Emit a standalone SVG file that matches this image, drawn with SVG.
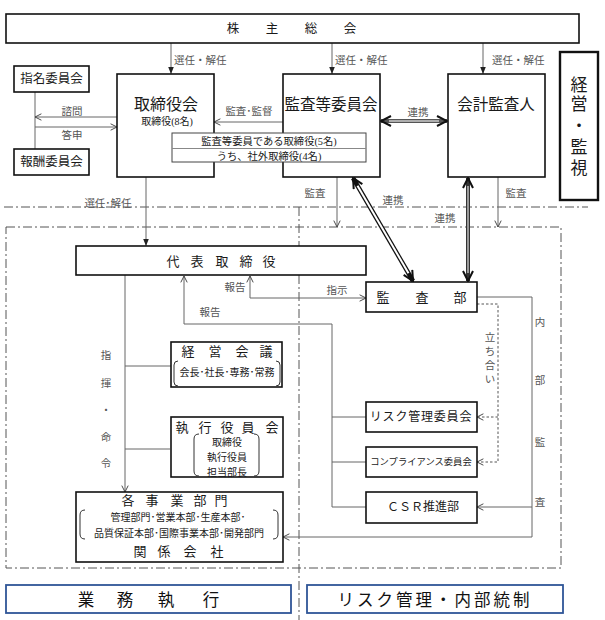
<svg xmlns="http://www.w3.org/2000/svg" width="605" height="620" viewBox="0 0 605 620">
<style>
.box{fill:#fff;stroke:#111;stroke-width:1.6}
.thick{fill:#fff;stroke:#111;stroke-width:2.4}
.blue{fill:#fff;stroke:#2f5597;stroke-width:1.8}
.ln{fill:none;stroke:#666;stroke-width:1}
.dot{fill:none;stroke:#555;stroke-width:1;stroke-dasharray:2.5 2}
.dd{fill:none;stroke:#555;stroke-width:1;stroke-dasharray:9 3 2 3}
.br{fill:none;stroke:#333;stroke-width:1}
text{font-family:"Liberation Serif","Noto Sans CJK JP",serif;fill:#1a1a1a;text-anchor:middle;dominant-baseline:central}
.lb{font-size:10.5px;fill:#555}
.st{text-anchor:start}
.gt{font-family:"Noto Sans CJK JP","Liberation Sans",sans-serif;fill:#111}
</style>
<defs>
<marker id="oa" viewBox="0 0 10 10" refX="9" refY="5" markerWidth="8" markerHeight="8" markerUnits="userSpaceOnUse" orient="auto-start-reverse"><path d="M1,1 L9,5 L1,9" fill="none" stroke="#444" stroke-width="1.2"/></marker>
<marker id="fa" viewBox="0 0 10 10" refX="10" refY="5" markerWidth="7" markerHeight="7" markerUnits="userSpaceOnUse" orient="auto-start-reverse"><path d="M0,1 L10,5 L0,9z" fill="#222"/></marker>
<marker id="ba" viewBox="0 0 12 12" refX="11" refY="6" markerWidth="12" markerHeight="12" markerUnits="userSpaceOnUse" orient="auto-start-reverse"><path d="M1,1 L11,6 L1,11" fill="none" stroke="#111" stroke-width="2"/></marker>
</defs>

<g id="regions">
<line class="dd" x1="4" y1="207" x2="588" y2="207"/>
<rect class="dd" x="6" y="227" width="555" height="341"/>
<line class="dd" x1="299" y1="207" x2="299" y2="620"/>
</g>

<g id="connectors">
<!-- 選任・解任 -->
<line class="ln" x1="171" y1="43" x2="171" y2="74" marker-end="url(#fa)"/>
<line class="ln" x1="332" y1="43" x2="332" y2="74" marker-end="url(#fa)"/>
<line class="ln" x1="483" y1="43" x2="483" y2="74" marker-end="url(#fa)"/>
<line class="ln" x1="146" y1="177" x2="146" y2="246" marker-end="url(#fa)"/>
<!-- 諮問 答申 -->
<line class="ln" x1="35" y1="92" x2="35" y2="149"/>
<line class="ln" x1="117" y1="117" x2="35" y2="117" marker-end="url(#oa)"/>
<line class="ln" x1="35" y1="127" x2="117" y2="127" marker-end="url(#oa)"/>
<!-- 監査・監督 -->
<line class="ln" x1="283" y1="122" x2="214" y2="122" marker-end="url(#oa)"/>
<!-- 連携 horizontal -->
<line x1="381" y1="121" x2="447" y2="121" stroke="#555" stroke-width="4" marker-start="url(#ba)" marker-end="url(#ba)"/>
<line x1="389" y1="121" x2="439" y2="121" stroke="#ccc" stroke-width="1.6"/>
<!-- 連携 diagonal -->
<line x1="353" y1="178" x2="413" y2="281" stroke="#111" stroke-width="4.5" marker-start="url(#ba)" marker-end="url(#ba)"/>
<line x1="357.5" y1="185.8" x2="408.5" y2="273.2" stroke="#fff" stroke-width="2"/>
<!-- 連携 vertical -->
<line x1="468" y1="178" x2="468" y2="281" stroke="#333" stroke-width="4" marker-start="url(#ba)" marker-end="url(#ba)"/>
<line x1="468" y1="186" x2="468" y2="273" stroke="#999" stroke-width="2"/>
<!-- 監査 -->
<line class="ln" x1="337" y1="177" x2="337" y2="227" marker-end="url(#oa)"/>
<line class="ln" x1="498" y1="177" x2="498" y2="227" marker-end="url(#oa)"/>
<!-- 報告 / 指示 -->
<polyline class="ln" points="250,276 250,298 366,298" marker-start="url(#oa)" marker-end="url(#oa)"/>
<polyline class="ln" points="332,507 332,324 184,324 184,276" marker-end="url(#oa)"/>
<line class="ln" x1="332" y1="417" x2="366" y2="417"/>
<line class="ln" x1="332" y1="462" x2="366" y2="462"/>
<line class="ln" x1="332" y1="507" x2="366" y2="507"/>
<!-- 指揮・命令 -->
<line class="ln" x1="125" y1="275" x2="125" y2="492" marker-end="url(#oa)"/>
<line class="ln" x1="125" y1="366" x2="171" y2="366"/>
<line class="ln" x1="125" y1="449" x2="170" y2="449"/>
<!-- 立ち合い -->
<polyline class="dot" points="477,304 498,304 498,462 477,462" marker-end="url(#oa)"/>
<line class="dot" x1="498" y1="417" x2="477" y2="417" marker-end="url(#oa)"/>
<!-- 内部監査 -->
<polyline class="ln" points="477,297 532,297 532,537 283,537" marker-end="url(#oa)"/>
<line class="ln" x1="532" y1="507" x2="477" y2="507" marker-end="url(#oa)"/>
</g>

<g id="labels">
<text class="lb st" x="174" y="60">選任・解任</text>
<text class="lb st" x="335" y="60">選任・解任</text>
<text class="lb st" x="492" y="60">選任・解任</text>
<text class="lb" x="108" y="203">選任･解任</text>
<text class="lb" x="72" y="111">諮問</text>
<text class="lb" x="72" y="135">答申</text>
<text class="lb" x="249" y="111">監査･監督</text>
<text class="lb" x="418" y="112">連携</text>
<text class="lb" x="315" y="193">監査</text>
<text class="lb" x="516" y="193">監査</text>
<text class="lb" x="393" y="200">連携</text>
<text class="lb" x="445" y="218">連携</text>
<text class="lb" x="235" y="287">報告</text>
<text class="lb" x="210" y="312">報告</text>
<text class="lb" x="337" y="290">指示</text>
<text class="lb" x="106" y="355">指</text>
<text class="lb" x="106" y="383">揮</text>
<text class="lb" x="106" y="410">・</text>
<text class="lb" x="106" y="437">命</text>
<text class="lb" x="106" y="463">令</text>
<text class="lb" x="490" y="337">立</text>
<text class="lb" x="490" y="351">ち</text>
<text class="lb" x="490" y="365">合</text>
<text class="lb" x="490" y="379">い</text>
<text class="lb" x="540" y="322">内</text>
<text class="lb" x="540" y="380">部</text>
<text class="lb" x="540" y="442">監</text>
<text class="lb" x="540" y="502">査</text>
</g>

<g id="shareholders">
<rect class="box" x="6" y="14" width="573" height="29"/>
<text x="233 272 311 350" y="29" font-size="12.5">株主総会</text>
</g>

<g id="nomination">
<rect class="box" x="14" y="66" width="75" height="26"/>
<text x="51.5" y="79" font-size="12.5">指名委員会</text>
</g>
<g id="remuneration">
<rect class="box" x="14" y="149" width="75" height="26"/>
<text x="51.5" y="162" font-size="12.5">報酬委員会</text>
</g>

<g id="board">
<rect class="box" x="117" y="74" width="97" height="103"/>
<text x="166" y="104" font-size="16">取締役会</text>
<text x="167" y="121" font-size="10" fill="#444">取締役(8名)</text>
</g>

<g id="audit-committee">
<rect class="box" x="283" y="74" width="97" height="103"/>
<text x="331" y="104" font-size="15.5">監査等委員会</text>
</g>

<g id="auditor">
<rect class="box" x="448" y="74" width="97" height="103"/>
<text x="496" y="104" font-size="15.5">会計監査人</text>
</g>

<g id="audit-members">
<rect x="172" y="133" width="194" height="29" fill="#fff" stroke="#444" stroke-width="1"/>
<line x1="172" y1="148.5" x2="366" y2="148.5" stroke="#888" stroke-width="1"/>
<text x="269" y="141" font-size="10.3" fill="#333">監査等委員である取締役(5名)</text>
<text x="269" y="156" font-size="10.3" fill="#333">うち、社外取締役(4名)</text>
</g>

<g id="oversight">
<rect class="thick" x="560" y="52" width="38" height="148"/>
<text x="579" y="85" font-size="17">経</text>
<text x="579" y="104" font-size="17">営</text>
<text x="579" y="126" font-size="17">・</text>
<text x="579" y="147" font-size="17">監</text>
<text x="579" y="168" font-size="17">視</text>
</g>

<g id="ceo">
<rect class="box" x="76" y="246" width="290" height="29"/>
<text x="173 197 222 246 269" y="261" font-size="13">代表取締役</text>
</g>

<g id="internal-audit">
<rect class="box" x="366" y="282" width="111" height="30"/>
<text x="383 422 460" y="297" font-size="13">監査部</text>
</g>

<g id="management-meeting">
<rect class="box" x="171" y="342" width="111" height="45"/>
<text x="188 215 242 266" y="351" font-size="13">経営会議</text>
<path class="br" d="M178,361 Q174,361 174,365 L174,382 Q174,386 178,386 M276,361 Q280,361 280,365 L280,382 Q280,386 276,386"/>
<text x="227" y="372" font-size="10">会長･社長･専務･常務</text>
</g>

<g id="executive-committee">
<rect class="box" x="171" y="417" width="112" height="60"/>
<text x="182 205 227 248 272" y="427" font-size="13">執行役員会</text>
<path class="br" d="M199,434 Q194,434 194,439 L194,471 Q194,476 199,476 M254,434 Q259,434 259,439 L259,471 Q259,476 254,476"/>
<text x="227" y="442" font-size="10">取締役</text>
<text x="227" y="457" font-size="10">執行役員</text>
<text x="227" y="472" font-size="10">担当部長</text>
</g>

<g id="business-units">
<rect class="box" x="76" y="492" width="207" height="70"/>
<text x="128 152 177 200 221" y="500" font-size="13">各事業部門</text>
<path class="br" d="M85,510 Q80,510 80,515 L80,534 Q80,539 85,539 M273,510 Q278,510 278,515 L278,534 Q278,539 273,539"/>
<text x="178" y="517" font-size="10">管理部門･営業本部･生産本部･</text>
<text x="179" y="533" font-size="10">品質保証本部･国際事業本部･開発部門</text>
<text x="140 164 190 217" y="551" font-size="13">関係会社</text>
</g>

<g id="risk-committee">
<rect class="box" x="366" y="402" width="111" height="30"/>
<text x="421" y="417" font-size="12" letter-spacing="0.8">リスク管理委員会</text>
</g>
<g id="compliance-committee">
<rect class="box" x="366" y="447" width="111" height="30"/>
<text x="421" y="462" font-size="9.3">コンプライアンス委員会</text>
</g>
<g id="csr">
<rect class="box" x="366" y="492" width="111" height="31"/>
<text x="423" y="507" font-size="12">ＣＳＲ推進部</text>
</g>

<g id="execution-label">
<rect class="blue" x="6" y="585" width="285" height="28"/>
<text class="gt" x="86 125 166 211" y="599" font-size="16.5">業務執行</text>
</g>
<g id="risk-label">
<rect class="blue" x="307" y="585" width="256" height="28"/>
<text class="gt" x="435" y="599" font-size="16.5" letter-spacing="3">リスク管理・内部統制</text>
</g>
</svg>
